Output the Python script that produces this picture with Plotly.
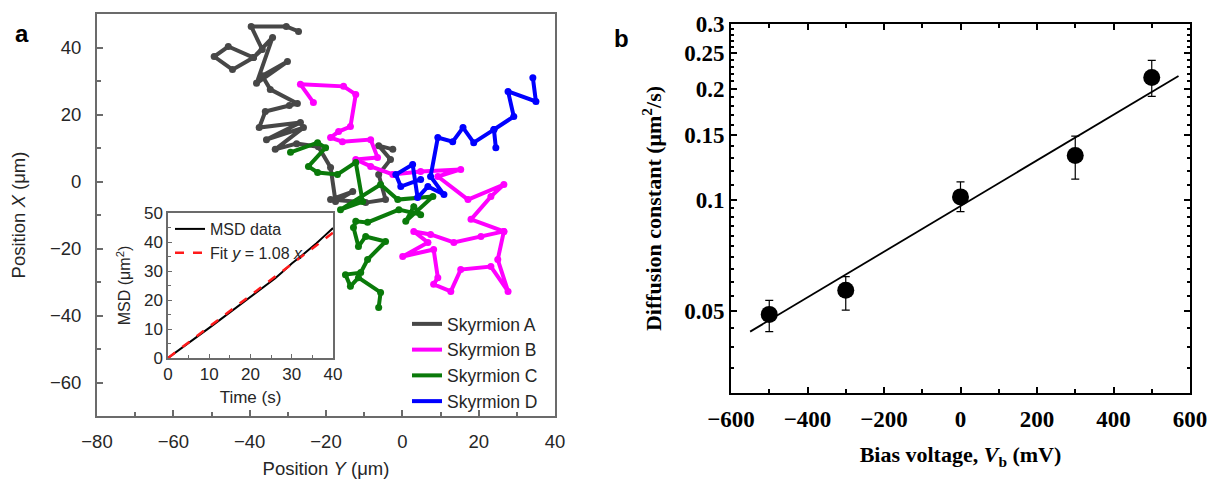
import plotly.graph_objects as go
import numpy as np

# ---------------- Panel a: skyrmion trajectories (positions in µm) ----------------
traj_names = ["Skyrmion A", "Skyrmion B", "Skyrmion C", "Skyrmion D"]
traj_colors = ["#474747", "#ff00ff", "#0a7a0a", "#0000ff"]

a_y = [-27.2, -30.4, -39.6, -36.7, -39.0, -45.6, -49.3, -44.5, -39.0, -34.0, -38.2, -30.1,
       -36.7, -34.6, -27.5, -29.6, -35.9, -37.5, -26.7, -35.6, -25.9, -33.3, -27.7, -22.0,
       -18.8, -17.5, -13.0, -18.8, -9.6, -4.4, -6.2, -3.1, -6.2, -2.5]
a_x = [44.8, 46.3, 46.3, 39.4, 37.0, 40.3, 37.3, 33.4, 37.0, 43.0, 29.3, 35.8,
       31.6, 27.5, 23.3, 22.7, 20.9, 16.1, 17.6, 12.5, 16.1, 9.6, 11.3, 10.4,
       4.2, -6.0, -3.0, -5.4, -6.3, -5.4, 2.1, 6.6, 10.7, 9.6]

b_y = [-23.3, -26.7, -15.4, -12.2, -13.6, -16.7, -18.8, -15.7, -8.3, -6.5, -12.2, -8.3,
       -2.5, 4.8, 15.3, 9.3, 17.2, 26.6, 23.2, 18.0, 26.6, 20.6, 13.5, 7.4, 3.0, 6.7,
       0.1, 8.2, 9.3, 8.2, 12.7, 15.3, 23.2, 27.7, 25.0, 26.6]
b_x = [23.6, 29.0, 28.4, 26.0, 16.4, 14.9, 13.1, 11.9, 12.5, 7.2, 6.6, 4.5,
       2.1, 3.0, 3.6, 1.5, -5.4, -0.9, -4.5, -11.3, -14.9, -16.4, -18.2, -15.8, -14.9, -18.2,
       -22.4, -20.3, -28.7, -30.7, -32.8, -26.3, -25.4, -32.8, -23.3, -14.9]

c_y = [-29.3, -22.2, -20.1, -24.6, -22.2, -17.0, -12.2, -10.4, -16.2, -5.7, -1.2, 8.0,
       0.9, 3.0, 4.8, -0.9, -9.1, -12.2, -12.8, -11.5, -9.6, -4.4, -9.1, -10.9, -14.9,
       -13.6, -11.5, -5.7, -6.2]
c_x = [8.7, 11.6, 10.1, 4.5, 2.7, 2.1, 5.7, -6.0, -8.4, -0.9, -5.4, -4.5,
       -11.9, -7.5, -9.9, -8.4, -12.2, -11.9, -13.7, -19.4, -16.4, -17.9, -23.3, -27.2, -27.8,
       -31.3, -28.7, -33.1, -37.6]

d_y = [34.2, 35.0, 27.7, 29.2, 24.0, 24.5, 24.0, 18.7, 15.9, 13.2, 9.3, 7.4, 10.9,
       6.7, 4.0, 2.7, -1.7, -0.4, 4.8]
d_x = [31.0, 23.9, 26.9, 19.4, 15.5, 10.1, 15.5, 11.6, 16.1, 11.9, 13.1, 1.5, -3.9,
       -1.5, -4.8, 5.1, 2.1, -1.5, 0.6]

traj_y = [a_y, b_y, c_y, d_y]
traj_x = [a_x, b_x, c_x, d_x]

# ---------------- Inset: mean squared displacement ----------------
msd_time = [0, 2, 4, 6, 8, 10, 12, 14, 16, 18, 20, 22, 24, 26, 28, 30, 32, 34, 36, 38, 40]
msd_data = [0.0, 2.0, 4.1, 6.2, 8.3, 10.4, 12.5, 14.6, 16.8, 18.9, 20.9, 23.0, 25.2,
            27.5, 30.0, 32.6, 34.8, 37.1, 39.6, 42.2, 44.8]
msd_slope = 1.08

# ---------------- Panel b: diffusion constant vs bias ----------------
bias_mv = [-500, -300, 0, 300, 500]
diff_const = [0.049, 0.057, 0.102, 0.132, 0.215]
diff_err_plus = [0.0045, 0.005, 0.010, 0.017, 0.024]
diff_err_minus = [0.005, 0.0067, 0.009, 0.018, 0.024]
fit_bias = [-550, 570]
fit_diff = [0.044, 0.217]

sans = "Liberation Sans, Arial, sans-serif"
serif = "Liberation Serif, Times New Roman, serif"
axis_gray = "#6b6b6b"
text_dark = "#262626"

fig = go.Figure()

# trajectories: line traces for the legend, vertex dots without legend
for name, col, ty, tx in zip(traj_names, traj_colors, traj_y, traj_x):
    fig.add_trace(go.Scatter(x=ty, y=tx, mode="lines", name=name,
                             line=dict(color=col, width=4), xaxis="x", yaxis="y",
                             legend="legend"))
    fig.add_trace(go.Scatter(x=ty, y=tx, mode="markers", showlegend=False,
                             marker=dict(color=col, size=7), xaxis="x", yaxis="y"))

# inset curves
fig.add_trace(go.Scatter(x=msd_time, y=msd_data, mode="lines", name="MSD data",
                         line=dict(color="black", width=2), xaxis="x2", yaxis="y2",
                         legend="legend2"))
fit_t = [msd_time[0], msd_time[-1]]
fig.add_trace(go.Scatter(x=fit_t, y=[msd_slope * t for t in fit_t], mode="lines",
                         name="Fit <i>y</i> = 1.08 <i>x</i>",
                         line=dict(color="#ff1a1a", width=2.5, dash="dash"),
                         xaxis="x2", yaxis="y2", legend="legend2"))

# panel b
fig.add_trace(go.Scatter(x=fit_bias, y=fit_diff, mode="lines", showlegend=False,
                         line=dict(color="black", width=1.8), xaxis="x3", yaxis="y3"))
fig.add_trace(go.Scatter(x=bias_mv, y=diff_const, mode="markers", showlegend=False,
                         marker=dict(color="black", size=17),
                         error_y=dict(type="data", array=diff_err_plus,
                                      arrayminus=diff_err_minus, color="black",
                                      thickness=1.2, width=4),
                         xaxis="x3", yaxis="y3"))

W, H = 1215, 479


def px_x(a, b):
    return [a / W, b / W]


def px_y(top, bottom):
    return [1 - bottom / H, 1 - top / H]


common_a = dict(showline=True, linecolor=axis_gray, linewidth=1.8, ticks="inside",
                tickcolor=axis_gray, ticklen=6, tickwidth=1.5, showgrid=False,
                zeroline=False, mirror=True, automargin=False,
                tickfont=dict(family=sans, size=18.5, color=text_dark))

y3_ticks = [0.05, 0.1, 0.15, 0.2, 0.25, 0.3]
y3_minor = [0.035, 0.04, 0.045, 0.055, 0.06, 0.065, 0.07, 0.075, 0.08, 0.085, 0.09,
            0.095, 0.11, 0.12, 0.13, 0.14, 0.16, 0.17, 0.18, 0.19, 0.21, 0.22, 0.23,
            0.24, 0.26, 0.27, 0.28, 0.29]

fig.update_layout(
    width=W, height=H, margin=dict(l=0, r=0, t=0, b=0, autoexpand=False),
    paper_bgcolor="white", plot_bgcolor="white",
    xaxis=dict(domain=px_x(97, 555), range=[-80, 40], dtick=20,
               minor=dict(dtick=10, ticks="inside", ticklen=4, tickcolor=axis_gray),
               ticklabelstandoff=8,
               title=dict(text="Position <i>Y</i> (μm)", standoff=11,
                          font=dict(family=sans, size=18.5, color=text_dark)),
               anchor="y", **common_a),
    yaxis=dict(domain=px_y(14, 416), range=[-70, 50], dtick=20,
               minor=dict(dtick=10, ticks="inside", ticklen=4, tickcolor=axis_gray),
               ticklabelstandoff=10,
               title=dict(text="Position <i>X</i> (μm)", standoff=20,
                          font=dict(family=sans, size=18.5, color=text_dark)),
               anchor="x", **common_a),
    xaxis2=dict(domain=px_x(168, 333), range=[0, 40], dtick=10, anchor="y2",
                showline=True, linecolor=axis_gray, linewidth=1.5, mirror=True,
                ticks="inside", ticklen=4, tickcolor=axis_gray, showgrid=False,
                zeroline=False, automargin=False,
                minor=dict(dtick=5, ticks="inside", ticklen=3, tickcolor=axis_gray),
                tickfont=dict(family=sans, size=17, color=text_dark),
                title=dict(text="Time (s)", standoff=8,
                           font=dict(family=sans, size=17, color=text_dark))),
    yaxis2=dict(domain=px_y(213, 358), range=[0, 50], dtick=10, anchor="x2",
                showline=True, linecolor=axis_gray, linewidth=1.5, mirror=True,
                ticks="inside", ticklen=4, tickcolor=axis_gray, showgrid=False,
                zeroline=False, automargin=False,
                minor=dict(dtick=5, ticks="inside", ticklen=3, tickcolor=axis_gray),
                tickfont=dict(family=sans, size=17, color=text_dark),
                title=dict(text="MSD (μm<sup>2</sup>)", standoff=9,
                           font=dict(family=sans, size=16, color=text_dark))),
    xaxis3=dict(domain=px_x(731, 1190), range=[-600, 600], dtick=200, anchor="y3",
                showline=True, linecolor="black", linewidth=2, mirror="ticks",
                ticks="inside", ticklen=6, tickwidth=1.5, tickcolor="black",
                showgrid=False, zeroline=False, ticklabelstandoff=4, automargin=False,
                minor=dict(dtick=100, ticks="inside", ticklen=4, tickcolor="black"),
                tickfont=dict(family=serif, size=23, color="black", weight="bold"),
                title=dict(text="Bias voltage, <i>V</i><sub>b</sub> (mV)", standoff=16,
                           font=dict(family=serif, size=22, color="black", weight="bold"))),
    yaxis3=dict(domain=px_y(24, 393), type="log",
                range=[np.log10(0.03), np.log10(0.3)], anchor="x3",
                tickmode="array", tickvals=y3_ticks,
                ticktext=[str(v) for v in y3_ticks],
                showline=True, linecolor="black", linewidth=2, mirror="ticks",
                ticks="inside", ticklen=6, tickwidth=1.5, tickcolor="black",
                showgrid=False, zeroline=False, automargin=False,
                minor=dict(tickmode="array", tickvals=y3_minor, ticks="inside",
                           ticklen=3, tickcolor="black"),
                tickfont=dict(family=serif, size=23, color="black", weight="bold"),
                title=dict(text="Diffusion constant (μm<sup>2</sup>/s)", standoff=16,
                           font=dict(family=serif, size=22, color="black", weight="bold"))),
    legend=dict(x=407 / W, y=1 - 306 / H, xanchor="left", yanchor="top",
                bgcolor="rgba(0,0,0,0)", tracegroupgap=0, itemwidth=30,
                font=dict(family=sans, size=17.5, color=text_dark)),
    legend2=dict(x=170 / W, y=1 - 212 / H, xanchor="left", yanchor="top",
                 bgcolor="rgba(0,0,0,0)", itemwidth=30,
                 font=dict(family=sans, size=16, color=text_dark)),
    showlegend=True,
)

fig.add_annotation(x=13 / W, y=1 - 33 / H, xref="paper", yref="paper", text="<b>a</b>",
                   showarrow=False, xanchor="left", yanchor="middle",
                   font=dict(family=sans, size=24, color="black"))
fig.add_annotation(x=612 / W, y=1 - 38 / H, xref="paper", yref="paper", text="<b>b</b>",
                   showarrow=False, xanchor="left", yanchor="middle",
                   font=dict(family=sans, size=24, color="black"))

fig.write_html("out.html")
